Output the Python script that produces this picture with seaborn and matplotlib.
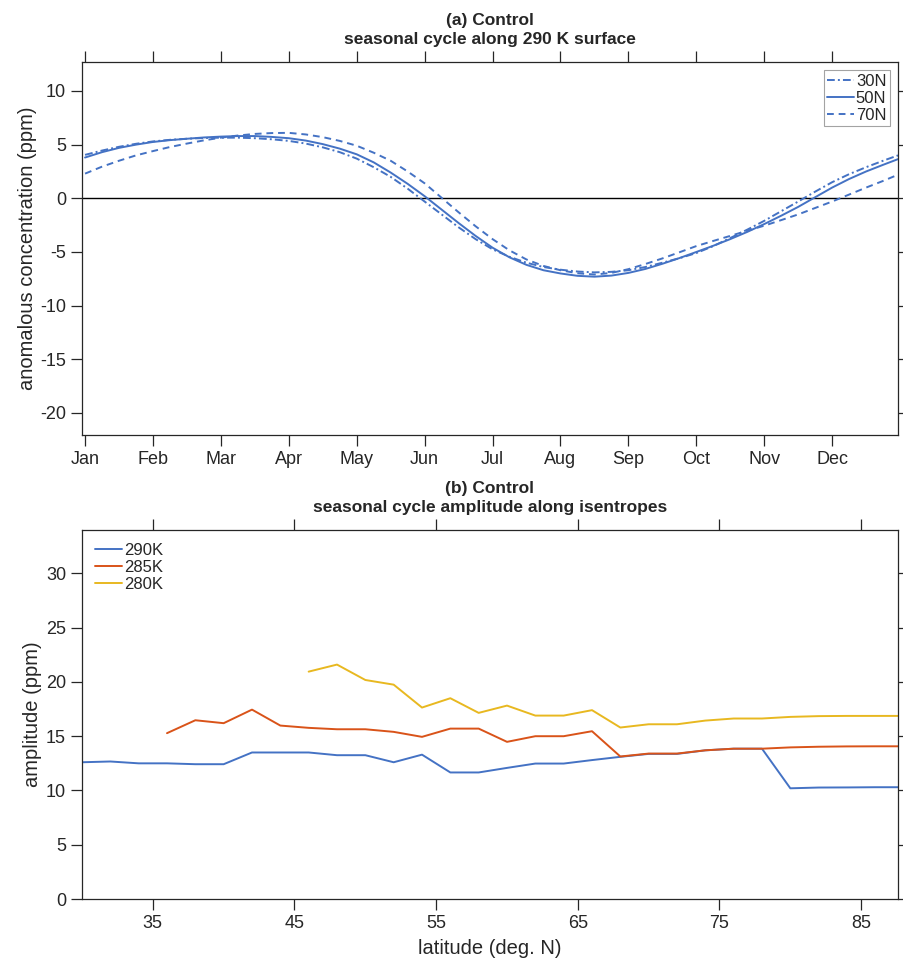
import numpy as np
import pandas as pd
import matplotlib
matplotlib.use("Agg")
import matplotlib.pyplot as plt
import seaborn as sns

# ---------------- data: panel (a) ----------------
month_pos = [1.0, 1.25, 1.5, 1.75, 2.0, 2.25, 2.5, 2.75, 3.0, 3.25, 3.5, 3.75,
             4.0, 4.25, 4.5, 4.75, 5.0, 5.25, 5.5, 5.75, 6.0, 6.25, 6.5, 6.75,
             7.0, 7.25, 7.5, 7.75, 8.0, 8.25, 8.5, 8.75, 9.0, 9.25, 9.5, 9.75,
             10.0, 10.25, 10.5, 10.75, 11.0, 11.25, 11.5, 11.75, 12.0, 12.25, 12.5,
             12.75, 12.97]
conc_30N = [4.05, 4.45, 4.8, 5.08, 5.3, 5.45, 5.55, 5.62, 5.65, 5.65, 5.6, 5.5,
            5.35, 5.1, 4.75, 4.3, 3.7, 2.9, 2.0, 0.9, -0.3, -1.5, -2.7, -3.8,
            -4.75, -5.45, -6.0, -6.4, -6.65, -6.82, -6.9, -6.85, -6.7, -6.4, -6.0, -5.58,
            -5.1, -4.45, -3.7, -2.92, -2.1, -1.2, -0.3, 0.62, 1.5, 2.25, 2.9,
            3.5, 4.0]
conc_50N = [3.8, 4.3, 4.7, 5.0, 5.25, 5.42, 5.55, 5.67, 5.75, 5.8, 5.8, 5.72,
            5.6, 5.38, 5.05, 4.63, 4.1, 3.35, 2.4, 1.35, 0.2, -1.05, -2.3, -3.5,
            -4.6, -5.5, -6.2, -6.7, -7.0, -7.22, -7.3, -7.2, -6.95, -6.58, -6.1, -5.57,
            -5.0, -4.42, -3.8, -3.13, -2.4, -1.62, -0.8, 0.1, 1.0, 1.8, 2.5,
            3.12, 3.65]
conc_70N = [2.3, 2.95, 3.5, 4.0, 4.4, 4.78, 5.1, 5.4, 5.65, 5.85, 6.0, 6.08,
            6.1, 5.95, 5.7, 5.35, 4.9, 4.25, 3.5, 2.5, 1.4, 0.05, -1.3, -2.6,
            -3.8, -4.85, -5.7, -6.3, -6.7, -6.98, -7.1, -6.95, -6.6, -6.12, -5.6, -5.03,
            -4.45, -3.97, -3.5, -3.02, -2.55, -2.03, -1.5, -0.9, -0.3, 0.35, 1.0,
            1.62, 2.2]
month_labels = ["Jan", "Feb", "Mar", "Apr", "May", "Jun", "Jul", "Aug", "Sep",
                "Oct", "Nov", "Dec"]

# ---------------- data: panel (b) ----------------
lat_290 = [30, 32, 34, 36, 38, 40, 42, 44, 46, 48, 50, 52, 54, 56, 58, 60, 62, 64,
           66, 68, 70, 72, 74, 76, 78, 80, 82, 84, 86, 88]
amp_290 = [12.6, 12.67, 12.5, 12.5, 12.42, 12.42, 13.5, 13.5, 13.5, 13.25, 13.25,
           12.6, 13.3, 11.66, 11.66, 12.08, 12.48, 12.48, 12.8, 13.1, 13.37, 13.37,
           13.7, 13.85, 13.85, 10.2, 10.27, 10.28, 10.3, 10.3]
lat_285 = [36, 38, 40, 42, 44, 46, 48, 50, 52, 54, 56, 58, 60, 62, 64, 66, 68, 70,
           72, 74, 76, 78, 80, 82, 84, 86, 88]
amp_285 = [15.28, 16.47, 16.2, 17.45, 15.98, 15.77, 15.64, 15.64, 15.4, 14.94, 15.7,
           15.7, 14.48, 15.0, 15.0, 15.46, 13.13, 13.4, 13.4, 13.7, 13.85, 13.85,
           13.97, 14.03, 14.06, 14.07, 14.07]
lat_280 = [46, 48, 50, 52, 54, 56, 58, 60, 62, 64, 66, 68, 70, 72, 74, 76, 78, 80,
           82, 84, 86, 88]
amp_280 = [20.95, 21.6, 20.18, 19.75, 17.64, 18.5, 17.15, 17.82, 16.9, 16.9, 17.4,
           15.8, 16.1, 16.1, 16.44, 16.63, 16.63, 16.78, 16.85, 16.87, 16.87, 16.87]
lat_ticks = [35, 45, 55, 65, 75, 85]

# ---------------- style ----------------
sns.set_theme(style="white")
plt.rcParams["font.family"] = ["Liberation Sans", "DejaVu Sans"]
plt.rcParams["axes.edgecolor"] = "#262626"
plt.rcParams["axes.linewidth"] = 0.9
plt.rcParams["axes.unicode_minus"] = False

BLUE = "#4472C4"
RED = "#D95319"
YEL = "#E8B820"
LW = 1.4

fig = plt.figure(figsize=(9.04, 9.61), dpi=100)
ax1 = fig.add_axes([82 / 904, 1 - 435 / 961, (898 - 82) / 904, (435 - 62) / 961])
ax2 = fig.add_axes([82 / 904, 1 - 899 / 961, (898 - 82) / 904, (899 - 530) / 961])

# ---------- panel (a) ----------
dfa = pd.DataFrame({"m": month_pos, "c30": conc_30N, "c50": conc_50N, "c70": conc_70N})
ax1.axhline(0, color="black", lw=1.0, zorder=1)
sns.lineplot(data=dfa, x="m", y="c30", ax=ax1, color=BLUE, lw=LW,
             linestyle=(0, (4, 1.6, 1, 1.6)), label="30N", sort=True)
sns.lineplot(data=dfa, x="m", y="c50", ax=ax1, color=BLUE, lw=LW,
             linestyle="-", label="50N", sort=True)
sns.lineplot(data=dfa, x="m", y="c70", ax=ax1, color=BLUE, lw=LW,
             linestyle=(0, (3.5, 2.5)), label="70N", sort=True)
ax1.set_xlim(0.955, 12.97)
ax1.set_ylim(-22.05, 12.7)
ax1.set_xticks(np.arange(1, 13))
ax1.set_xticklabels(month_labels)
ax1.set_yticks([-20, -15, -10, -5, 0, 5, 10])
ax1.set_xlabel("")
ax1.set_ylabel("anomalous concentration (ppm)", fontsize=14.5, labelpad=2)
ax1.set_title("(a) Control\nseasonal cycle along 290 K surface", fontsize=12.5,
              fontweight="bold", pad=13, linespacing=1.3)
leg1 = ax1.legend(loc="upper right", fontsize=12, frameon=True, fancybox=False,
                  handlelength=1.6, handletextpad=0.1, borderpad=0.2,
                  labelspacing=0.12, borderaxespad=0.5)
leg1.get_frame().set_edgecolor("#8c8c8c")
leg1.get_frame().set_linewidth(0.8)

# ---------- panel (b) ----------
df290 = pd.DataFrame({"lat": lat_290, "amp": amp_290})
df285 = pd.DataFrame({"lat": lat_285, "amp": amp_285})
df280 = pd.DataFrame({"lat": lat_280, "amp": amp_280})
sns.lineplot(data=df290, x="lat", y="amp", ax=ax2, color=BLUE, lw=LW, label="290K")
sns.lineplot(data=df285, x="lat", y="amp", ax=ax2, color=RED, lw=LW, label="285K")
sns.lineplot(data=df280, x="lat", y="amp", ax=ax2, color=YEL, lw=LW, label="280K")
ax2.set_xlim(30, 87.6)
ax2.set_ylim(0, 34)
ax2.set_xticks(lat_ticks)
ax2.set_yticks([0, 5, 10, 15, 20, 25, 30])
ax2.set_xlabel("latitude (deg. N)", fontsize=14.5, labelpad=5)
ax2.set_ylabel("amplitude (ppm)", fontsize=14.5, labelpad=3)
ax2.set_title("(b) Control\nseasonal cycle amplitude along isentropes", fontsize=12.5,
              fontweight="bold", pad=13, linespacing=1.3)
ax2.legend(loc="upper left", fontsize=12, frameon=False, handlelength=1.6,
           handletextpad=0.1, labelspacing=0.12, borderaxespad=0.4)

for ax in (ax1, ax2):
    ax.tick_params(axis="both", which="both", direction="out", length=8, width=0.9,
                   colors="#262626", labelsize=13, top=True, right=True,
                   labeltop=False, labelright=False, bottom=True, left=True)
    for lab in ax.get_xticklabels() + ax.get_yticklabels():
        lab.set_color("#262626")
    ax.grid(False)

fig.savefig("out.png", dpi=100)
